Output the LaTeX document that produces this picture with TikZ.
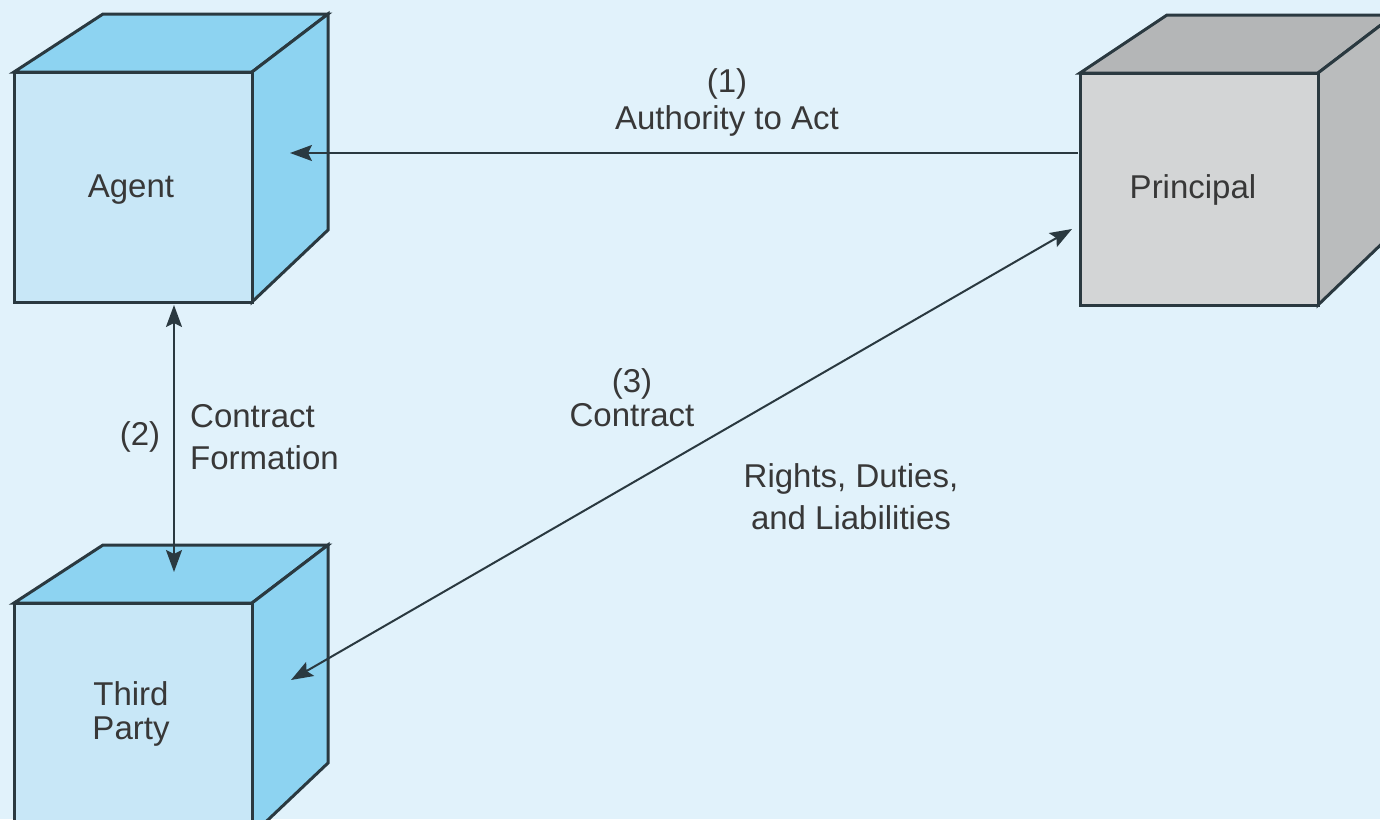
\documentclass[tikz,border=0pt]{standalone}
\usepackage{fontspec}
\setmainfont{Liberation Sans}
\usetikzlibrary{arrows.meta}
\definecolor{bgc}{HTML}{E1F2FB}
\definecolor{bluefront}{HTML}{C8E7F7}
\definecolor{blueside}{HTML}{8DD3F1}
\definecolor{grayfront}{HTML}{D3D5D6}
\definecolor{graytop}{HTML}{B4B6B7}
\definecolor{grayside}{HTML}{BABCBD}
\definecolor{edgec}{HTML}{2A3940}
\definecolor{txtc}{HTML}{383838}
\tikzset{
  cubeedge/.style={draw=edgec, line width=3pt, line join=miter},
  lbl/.style={text=txtc, font=\fontsize{33}{38}\selectfont, inner sep=0pt, align=center},
  headtip/.tip={Stealth[length=22pt,width=16pt,inset=4pt]},
  conn/.style={draw=edgec, line width=2pt, -headtip},
  conn2/.style={draw=edgec, line width=2pt, headtip-headtip}
}
\begin{document}
\begin{tikzpicture}[x=1pt,y=-1pt]
\useasboundingbox (0,0) rectangle (1380,819);
\fill[bgc] (0,0) rectangle (1380,819);
\clip (0,0) rectangle (1380,819);
% Agent cube
\filldraw[cubeedge, fill=blueside] (14,72) -- (103,14) -- (328,14) -- (252,72) -- cycle;
\filldraw[cubeedge, fill=blueside] (252,72) -- (328,14) -- (328,230) -- (252,302) -- cycle;
\filldraw[cubeedge, fill=bluefront] (14,72) rectangle (252,302);
% Third party cube
\filldraw[cubeedge, fill=blueside] (14,603) -- (103,545) -- (328,545) -- (252,603) -- cycle;
\filldraw[cubeedge, fill=blueside] (252,603) -- (328,545) -- (328,763) -- (252,835) -- cycle;
\filldraw[cubeedge, fill=bluefront] (14,603) rectangle (252,840);
% Principal cube
\filldraw[cubeedge, fill=graytop] (1080,73) -- (1167,15) -- (1394,15) -- (1318,73) -- cycle;
\filldraw[cubeedge, fill=grayside] (1318,73) -- (1394,15) -- (1394,232) -- (1318,305) -- cycle;
\filldraw[cubeedge, fill=grayfront] (1080,73) rectangle (1318,305);
% labels in cubes
\node[lbl] (agent) at (131,190) {Agent};
\node[lbl] (principal) at (1193,190) {Principal};
\node[lbl, font=\fontsize{33}{34}\selectfont] (third) at (131,714) {Third\\Party};
% connector end points
\coordinate (pL) at (1078,153);
\coordinate (aR) at (290,153);
\coordinate (aB) at (174,305);
\coordinate (tT) at (174,572);
\coordinate (tR) at (291,680);
\coordinate (pB) at (1072,229);
\draw[conn] (pL) -- (aR);
\draw[conn2] (aB) -- (tT);
\draw[conn2] (tR) -- (pB);
% connector labels
\node[lbl, font=\fontsize{33}{37}\selectfont] (l1) at (727,102) {(1)\\Authority to Act};
\node[lbl] (l2) at (140,437) {(2)};
\node[lbl, align=left, anchor=west, font=\fontsize{33}{42}\selectfont] (l2b) at (190,437) {Contract\\Formation};
\node[lbl, font=\fontsize{33}{34}\selectfont] (l3) at (632,398) {(3)\\Contract};
\node[lbl, font=\fontsize{33}{42}\selectfont] (l3b) at (851,497) {Rights, Duties,\\and Liabilities};
\end{tikzpicture}
\end{document}
